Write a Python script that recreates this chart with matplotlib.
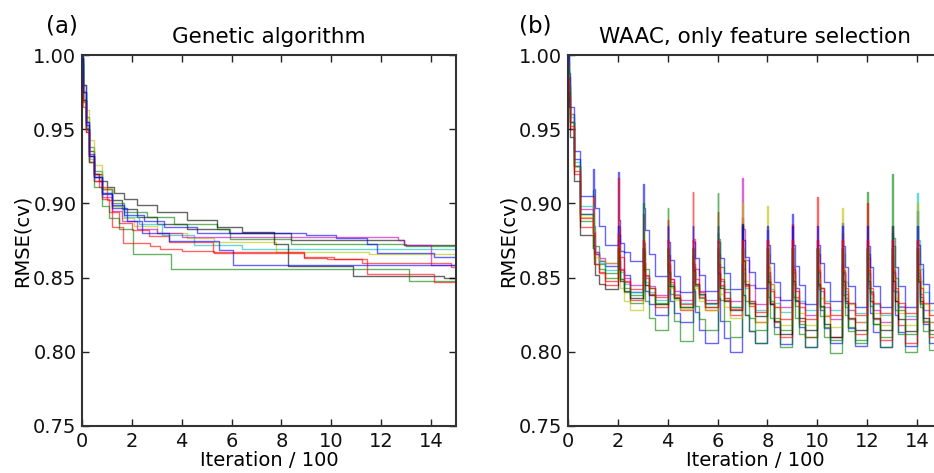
import matplotlib
matplotlib.use("Agg")
import matplotlib.pyplot as plt

# ---------------- data ----------------
X_MAX = 15.0
Y_TICKS = [0.75, 0.80, 0.85, 0.90, 0.95, 1.00]
X_TICKS = [0, 2, 4, 6, 8, 10, 12, 14]

TITLE_A = "Genetic algorithm"
TITLE_B = "WAAC, only feature selection"
XLABEL = "Iteration / 100"
YLABEL = "RMSE(cv)"

# Panel (a): step curves given as breakpoints (x in units of 100 iterations)
ga_colors = ['k', 'g', 'c', 'y', 'b', 'm', 'k', 'r', 'g', 'r', 'b']
ga_x = [
    [0, 0.05, 0.15, 0.3, 0.5, 0.8, 1.2, 1.6, 2.2, 3.0, 4.2, 5.9, 8.4, 12.9],
    [0, 0.05, 0.15, 0.3, 0.5, 0.8, 1.2, 1.7, 2.6, 3.7, 5.4, 5.95, 8.37, 13.0],
    [0, 0.05, 0.15, 0.3, 0.5, 0.8, 1.2, 1.7, 2.3, 3.2, 4.5, 6.4],
    [0, 0.05, 0.15, 0.3, 0.5, 0.8, 1.2, 1.6, 2.1, 3.0, 4.2, 5.3, 7.8, 11.5],
    [0, 0.05, 0.15, 0.3, 0.5, 0.8, 1.2, 1.7, 2.5, 3.3, 4.6, 8.97, 10.18, 11.45, 11.85, 14.13],
    [0, 0.05, 0.15, 0.3, 0.5, 0.8, 1.2, 1.6, 2.2, 3.0, 4.0, 12.66, 12.92, 14.0],
    [0, 0.05, 0.15, 0.3, 0.5, 0.7, 1.0, 1.3, 1.7, 2.2, 3.0, 4.2, 5.4, 6.4, 7.7, 8.27, 10.85, 14.53],
    [0, 0.05, 0.15, 0.3, 0.5, 0.8, 1.1, 1.5, 2.0, 2.7, 3.5, 5.27, 8.9, 9.84, 11.25, 11.6, 14.8],
    [0, 0.05, 0.15, 0.3, 0.5, 0.8, 1.1, 1.5, 2.05, 3.57, 13.1],
    [0, 0.05, 0.15, 0.3, 0.5, 0.7, 1.0, 1.2, 1.66, 2.74, 3.14, 4.0, 5.28, 8.9, 10.1, 11.45, 14.1],
    [0, 0.05, 0.15, 0.3, 0.5, 0.8, 1.2, 1.8, 2.4, 3.5, 5.5, 6.07],
]
ga_y = [
    [0.995, 0.975, 0.955, 0.935, 0.920, 0.910, 0.902, 0.896, 0.891, 0.886, 0.883, 0.880, 0.875, 0.872],
    [1.000, 0.980, 0.958, 0.938, 0.922, 0.910, 0.900, 0.894, 0.891, 0.886, 0.8825, 0.8758, 0.8724, 0.871],
    [0.998, 0.975, 0.950, 0.930, 0.918, 0.907, 0.898, 0.891, 0.886, 0.879, 0.872, 0.869],
    [0.995, 0.980, 0.963, 0.943, 0.926, 0.910, 0.898, 0.890, 0.885, 0.880, 0.877, 0.8742, 0.867, 0.866],
    [1.000, 0.980, 0.955, 0.933, 0.918, 0.907, 0.899, 0.892, 0.888, 0.884, 0.880, 0.8787, 0.8765, 0.8724, 0.8668, 0.864],
    [0.990, 0.970, 0.950, 0.928, 0.915, 0.904, 0.895, 0.888, 0.883, 0.880, 0.8776, 0.8753, 0.872, 0.8585],
    [0.998, 0.970, 0.950, 0.932, 0.920, 0.915, 0.911, 0.907, 0.903, 0.899, 0.894, 0.889, 0.8843, 0.8805, 0.8724, 0.858, 0.8513, 0.8497],
    [0.985, 0.968, 0.948, 0.928, 0.915, 0.903, 0.894, 0.887, 0.882, 0.878, 0.874, 0.867, 0.8634, 0.8625, 0.860, 0.8596, 0.857],
    [0.995, 0.970, 0.950, 0.928, 0.911, 0.898, 0.890, 0.883, 0.8660, 0.8556, 0.848],
    [0.980, 0.965, 0.948, 0.932, 0.920, 0.911, 0.902, 0.884, 0.873, 0.871, 0.8695, 0.868, 0.8668, 0.864, 0.8624, 0.8524, 0.847],
    [0.998, 0.975, 0.953, 0.932, 0.918, 0.906, 0.897, 0.888, 0.880, 0.8745, 0.8686, 0.8585],
]

# Panel (b): each epoch of 100 iterations, values read at EPOCH_DX after its start
EPOCH_DX = [0, 0.03, 0.1, 0.25, 0.5]
waac_colors = ['b', 'g', 'r', 'c', 'm', 'y', 'k', 'b', 'g', 'r']
waac_y = [
    # blue (deep)
    [[1.000, 0.985, 0.960, 0.930, 0.893], [0.880, 0.871, 0.866, 0.861, 0.858], [0.921, 0.889, 0.868, 0.852, 0.840],
     [0.870, 0.852, 0.841, 0.832, 0.825], [0.860, 0.844, 0.834, 0.826, 0.820], [0.865, 0.841, 0.827, 0.815, 0.806],
     [0.860, 0.836, 0.821, 0.809, 0.800], [0.860, 0.838, 0.825, 0.814, 0.806], [0.882, 0.851, 0.832, 0.817, 0.805],
     [0.893, 0.857, 0.835, 0.817, 0.803], [0.870, 0.844, 0.828, 0.816, 0.806], [0.887, 0.854, 0.833, 0.816, 0.804],
     [0.870, 0.843, 0.826, 0.813, 0.803], [0.865, 0.841, 0.825, 0.813, 0.804], [0.895, 0.859, 0.837, 0.819, 0.806]],
    # green (deep)
    [[0.995, 0.980, 0.955, 0.925, 0.888], [0.909, 0.885, 0.871, 0.859, 0.850], [0.880, 0.861, 0.849, 0.840, 0.833],
     [0.870, 0.848, 0.834, 0.823, 0.8145], [0.897, 0.861, 0.839, 0.821, 0.807], [0.860, 0.842, 0.831, 0.822, 0.815],
     [0.880, 0.852, 0.835, 0.821, 0.810], [0.860, 0.838, 0.825, 0.814, 0.806], [0.860, 0.837, 0.823, 0.812, 0.803],
     [0.860, 0.837, 0.823, 0.812, 0.803], [0.870, 0.842, 0.824, 0.810, 0.799], [0.860, 0.838, 0.825, 0.814, 0.806],
     [0.908, 0.866, 0.840, 0.819, 0.803], [0.880, 0.848, 0.828, 0.812, 0.800], [0.885, 0.851, 0.830, 0.814, 0.801]],
    # red
    [[0.980, 0.970, 0.950, 0.920, 0.884], [0.905, 0.881, 0.866, 0.854, 0.845], [0.917, 0.884, 0.864, 0.847, 0.835],
     [0.893, 0.868, 0.852, 0.839, 0.830], [0.889, 0.865, 0.849, 0.837, 0.828], [0.908, 0.876, 0.856, 0.840, 0.828],
     [0.894, 0.866, 0.849, 0.835, 0.825], [0.890, 0.862, 0.845, 0.831, 0.820], [0.875, 0.849, 0.833, 0.820, 0.810],
     [0.886, 0.856, 0.837, 0.821, 0.810], [0.904, 0.866, 0.843, 0.824, 0.810], [0.880, 0.853, 0.836, 0.822, 0.812],
     [0.900, 0.863, 0.840, 0.822, 0.808], [0.885, 0.853, 0.834, 0.818, 0.806], [0.875, 0.849, 0.833, 0.820, 0.810]],
    # cyan
    [[0.990, 0.980, 0.958, 0.928, 0.898], [0.890, 0.876, 0.867, 0.860, 0.855], [0.880, 0.864, 0.854, 0.846, 0.840],
     [0.870, 0.856, 0.847, 0.840, 0.835], [0.870, 0.855, 0.846, 0.839, 0.833], [0.870, 0.855, 0.845, 0.838, 0.832],
     [0.870, 0.854, 0.844, 0.836, 0.830], [0.870, 0.853, 0.843, 0.834, 0.828], [0.870, 0.853, 0.842, 0.833, 0.827],
     [0.870, 0.853, 0.843, 0.834, 0.828], [0.870, 0.853, 0.843, 0.834, 0.828], [0.870, 0.852, 0.841, 0.833, 0.826],
     [0.870, 0.852, 0.841, 0.832, 0.825], [0.870, 0.852, 0.840, 0.831, 0.824], [0.907, 0.875, 0.856, 0.840, 0.828]],
    # magenta
    [[0.985, 0.975, 0.955, 0.925, 0.896], [0.880, 0.872, 0.867, 0.863, 0.860], [0.875, 0.863, 0.856, 0.850, 0.845],
     [0.875, 0.860, 0.851, 0.844, 0.838], [0.875, 0.859, 0.849, 0.841, 0.835], [0.875, 0.859, 0.849, 0.841, 0.835],
     [0.875, 0.859, 0.848, 0.840, 0.834], [0.917, 0.883, 0.862, 0.845, 0.832], [0.875, 0.857, 0.846, 0.837, 0.830],
     [0.875, 0.855, 0.843, 0.833, 0.825], [0.875, 0.854, 0.841, 0.830, 0.822], [0.875, 0.853, 0.839, 0.828, 0.820],
     [0.875, 0.853, 0.839, 0.828, 0.820], [0.875, 0.854, 0.841, 0.830, 0.822], [0.875, 0.853, 0.839, 0.828, 0.820]],
    # yellow
    [[0.995, 0.982, 0.960, 0.925, 0.891], [0.870, 0.866, 0.864, 0.862, 0.860], [0.870, 0.853, 0.843, 0.834, 0.828],
     [0.870, 0.855, 0.845, 0.838, 0.832], [0.870, 0.854, 0.843, 0.835, 0.829], [0.870, 0.853, 0.843, 0.834, 0.828],
     [0.870, 0.851, 0.839, 0.830, 0.823], [0.900, 0.868, 0.848, 0.832, 0.820], [0.898, 0.866, 0.846, 0.830, 0.818],
     [0.870, 0.849, 0.836, 0.826, 0.818], [0.870, 0.849, 0.836, 0.825, 0.817], [0.897, 0.866, 0.847, 0.832, 0.820],
     [0.870, 0.849, 0.836, 0.826, 0.818], [0.870, 0.849, 0.836, 0.826, 0.818], [0.900, 0.868, 0.848, 0.832, 0.820]],
    # black
    [[0.975, 0.965, 0.945, 0.915, 0.879], [0.870, 0.859, 0.852, 0.846, 0.842], [0.870, 0.856, 0.848, 0.841, 0.836],
     [0.870, 0.855, 0.845, 0.838, 0.832], [0.870, 0.854, 0.844, 0.836, 0.830], [0.870, 0.855, 0.846, 0.839, 0.833],
     [0.870, 0.853, 0.843, 0.834, 0.828], [0.886, 0.861, 0.846, 0.833, 0.824], [0.870, 0.847, 0.832, 0.821, 0.812],
     [0.870, 0.848, 0.834, 0.823, 0.815], [0.870, 0.846, 0.831, 0.819, 0.810], [0.870, 0.848, 0.834, 0.823, 0.815],
     [0.870, 0.848, 0.834, 0.823, 0.815], [0.870, 0.848, 0.834, 0.822, 0.814], [0.870, 0.848, 0.834, 0.823, 0.815]],
    # blue (upper, slow decays)
    [[1.000, 0.988, 0.965, 0.935, 0.905], [0.923, 0.910, 0.897, 0.885, 0.872], [0.885, 0.879, 0.873, 0.867, 0.861],
     [0.913, 0.897, 0.882, 0.866, 0.851], [0.885, 0.874, 0.862, 0.851, 0.840], [0.885, 0.874, 0.863, 0.852, 0.841],
     [0.885, 0.874, 0.863, 0.853, 0.842], [0.885, 0.875, 0.864, 0.854, 0.843], [0.885, 0.872, 0.860, 0.847, 0.835],
     [0.885, 0.872, 0.858, 0.845, 0.832], [0.885, 0.872, 0.860, 0.847, 0.8345], [0.885, 0.871, 0.857, 0.844, 0.830],
     [0.885, 0.871, 0.857, 0.844, 0.830], [0.885, 0.871, 0.857, 0.844, 0.830], [0.885, 0.872, 0.859, 0.846, 0.833]],
    # green (second)
    [[0.990, 0.978, 0.955, 0.925, 0.893], [0.870, 0.863, 0.859, 0.856, 0.853], [0.870, 0.857, 0.849, 0.843, 0.838],
     [0.900, 0.873, 0.856, 0.843, 0.833], [0.870, 0.854, 0.844, 0.836, 0.830], [0.870, 0.854, 0.844, 0.836, 0.830],
     [0.907, 0.876, 0.857, 0.842, 0.830], [0.870, 0.848, 0.834, 0.823, 0.815], [0.870, 0.848, 0.834, 0.823, 0.815],
     [0.870, 0.846, 0.831, 0.819, 0.810], [0.870, 0.845, 0.830, 0.817, 0.808], [0.870, 0.845, 0.830, 0.817, 0.808],
     [0.870, 0.846, 0.831, 0.819, 0.810], [0.920, 0.877, 0.850, 0.828, 0.812], [0.870, 0.847, 0.832, 0.821, 0.812]],
    # red (second)
    [[0.985, 0.972, 0.952, 0.922, 0.890], [0.880, 0.867, 0.859, 0.853, 0.848], [0.880, 0.865, 0.855, 0.848, 0.842],
     [0.875, 0.860, 0.850, 0.843, 0.837], [0.875, 0.858, 0.847, 0.838, 0.832], [0.875, 0.857, 0.846, 0.837, 0.830],
     [0.875, 0.857, 0.845, 0.836, 0.829], [0.875, 0.856, 0.844, 0.834, 0.827], [0.875, 0.854, 0.841, 0.830, 0.822],
     [0.875, 0.854, 0.841, 0.830, 0.822], [0.875, 0.855, 0.843, 0.833, 0.825], [0.875, 0.855, 0.843, 0.833, 0.825],
     [0.875, 0.855, 0.843, 0.833, 0.826], [0.875, 0.855, 0.843, 0.833, 0.826], [0.875, 0.855, 0.843, 0.833, 0.825]],
]

# ---------------- style ----------------
plt.rcParams['font.family'] = ['DejaVu Sans']
COLORS = {'b': (0, 0, 1), 'g': (0, 0.5, 0), 'r': (1, 0, 0), 'c': (0, 0.75, 0.75),
          'm': (0.75, 0, 0.75), 'y': (0.75, 0.75, 0), 'k': (0, 0, 0)}
LW = 1.0
ALPHA = 0.6

fig = plt.figure(figsize=(9.34, 4.73), dpi=100)
ax_a = fig.add_axes([0.0878, 0.0994, 0.4004, 0.7843])
ax_b = fig.add_axes([0.6081, 0.0994, 0.4004, 0.7843])


def style_axes(ax, title):
    ax.set_xlim(0, X_MAX)
    ax.set_ylim(Y_TICKS[0], Y_TICKS[-1])
    ax.set_xticks(X_TICKS)
    ax.set_yticks(Y_TICKS)
    ax.set_yticklabels([f"{v:.2f}" for v in Y_TICKS])
    ax.tick_params(direction='in', length=5, width=1, top=True, right=True,
                   labelsize=14, pad=4, colors='#222222', labelcolor='#111111')
    for s in ax.spines.values():
        s.set_linewidth(1.5)
        s.set_color('#333333')
    ax.set_title(title, fontsize=15.5, pad=9)
    ax.set_xlabel(XLABEL, fontsize=14, labelpad=0)
    ax.set_ylabel(YLABEL, fontsize=14, labelpad=1)


for xs, ys, c in zip(ga_x, ga_y, ga_colors):
    ax_a.plot(list(xs) + [X_MAX], list(ys) + [ys[-1]], drawstyle='steps-post',
              color=COLORS[c], lw=LW, alpha=ALPHA)

for epochs, c in zip(waac_y, waac_colors):
    xs, ys = [], []
    for e, vals in enumerate(epochs):
        for dx, v in zip(EPOCH_DX, vals):
            xs.append(e + dx)
            ys.append(v)
    xs.append(X_MAX)
    ys.append(ys[-1])
    ax_b.plot(xs, ys, drawstyle='steps-post', color=COLORS[c], lw=LW, alpha=ALPHA)

style_axes(ax_a, TITLE_A)
style_axes(ax_b, TITLE_B)

fig.text(0.049, 0.945, "(a)", fontsize=16.5, va='center', ha='left')
fig.text(0.556, 0.945, "(b)", fontsize=16.5, va='center', ha='left')

fig.savefig("out.png", dpi=100)
